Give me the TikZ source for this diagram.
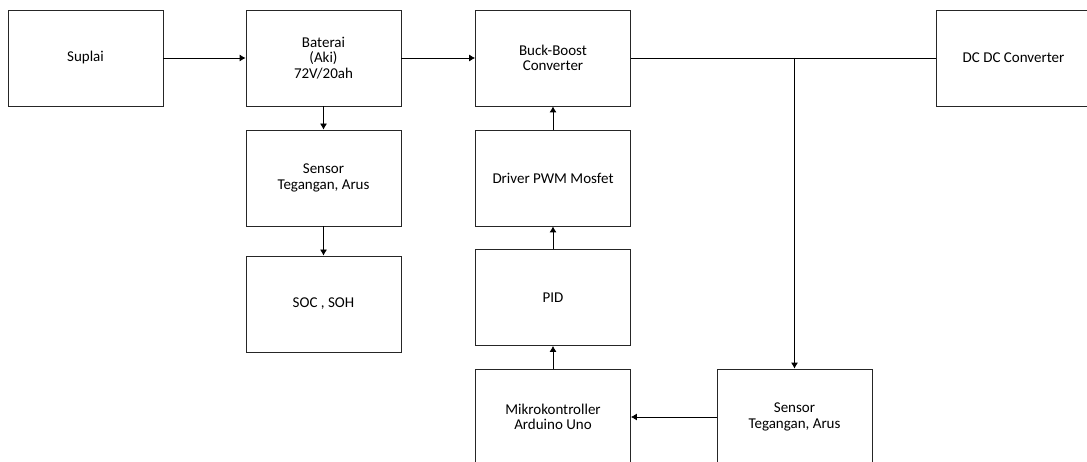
\documentclass[tikz,border=0pt]{standalone}
\usepackage{fontspec}
\setmainfont{Carlito}
\usepackage{tikz}
\usetikzlibrary{arrows.meta,positioning,calc}

\begin{document}
\begin{tikzpicture}[x=1pt,y=1pt,
  blok/.style={shape=rectangle,draw=black!85,line width=0.8pt,minimum width=155pt,minimum height=96pt,align=center,font=\fontsize{15}{15.5}\selectfont},
  >={Latex[length=6pt,width=7pt]}]
\useasboundingbox (0,0) rectangle (1087,461);

\node[blok] (S) at (85.5,403) {Suplai};
\node[blok] (B) at (323.5,403) {Baterai\\(Aki)\\72V/20ah};
\node[blok] (SL) at (323.5,283) {Sensor\\Tegangan, Arus};
\node[blok] (SO) at (323.5,157) {SOC , SOH};
\node[blok] (BB) at (553,403) {Buck-Boost\\Converter};
\node[blok] (DR) at (553,283) {Driver PWM Mosfet};
\node[blok] (P) at (553,163.5) {PID};
\node[blok] (M) at (553,44) {Mikrokontroller\\Arduino Uno};
\node[blok] (SR) at (794.5,44) {Sensor\\Tegangan, Arus};
\node[blok] (DC) at (1013.5,403) {DC DC Converter};

\coordinate (J) at (SR.north |- BB.east);
\draw[->,line width=0.8pt] (S) -- (B);
\draw[->,line width=0.8pt] (B) -- (BB);
\draw[line width=0.8pt] (BB) -- (DC);
\draw[->,line width=0.8pt] (J) -- (SR);
\draw[->,line width=0.8pt] (B) -- (SL);
\draw[->,line width=0.8pt] (SL) -- (SO);
\draw[->,line width=0.8pt] (DR) -- (BB);
\draw[->,line width=0.8pt] (P) -- (DR);
\draw[->,line width=0.8pt] (M) -- (P);
\draw[->,line width=0.8pt] (SR) -- (M);
\end{tikzpicture}
\end{document}
